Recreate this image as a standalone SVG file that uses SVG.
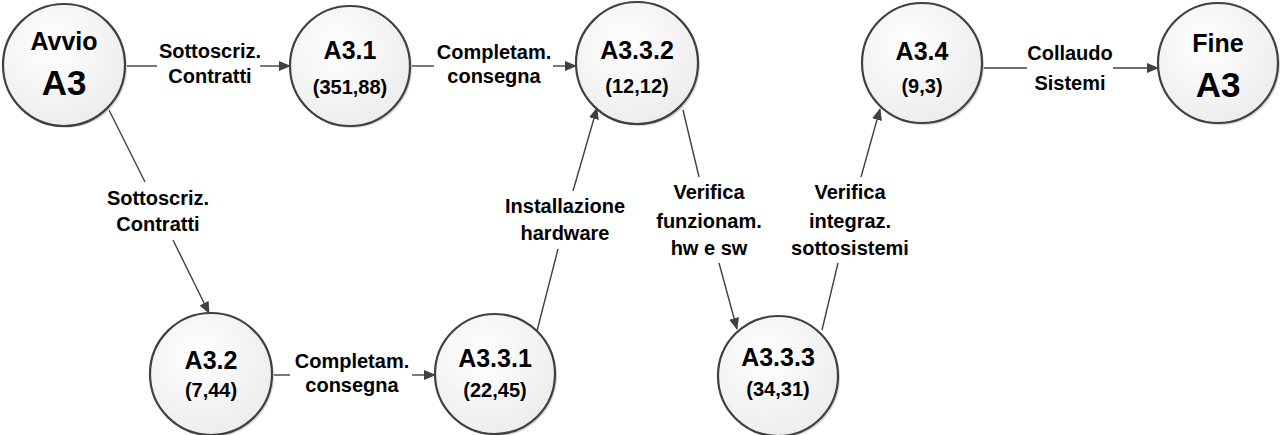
<svg xmlns="http://www.w3.org/2000/svg" width="1285" height="435" viewBox="0 0 1285 435">
<style>
.node{fill:url(#g);stroke:#404040;stroke-width:2.2}
.sh{fill:#d6d6d6}
.t{font-family:"Liberation Sans",Arial,sans-serif;font-weight:bold;fill:#000;text-anchor:middle}
.n1{font-size:25px}
.n2{font-size:20px}
.big{font-size:35px}
.lb{font-size:20px}
.e{stroke:#404040;stroke-width:1.4;fill:none}
</style>
<defs>
<radialGradient id="g" cx="0.4" cy="0.35" r="0.7">
<stop offset="0" stop-color="#ffffff"/>
<stop offset="1" stop-color="#ececec"/>
</radialGradient>
<marker id="a" markerWidth="12" markerHeight="10" refX="11" refY="5" orient="auto" markerUnits="userSpaceOnUse">
<path d="M0,0 L12,5 L0,10 Z" fill="#404040"/>
</marker>
</defs>
<g id="connectors">
<path class="e" d="M126,66 H157"/>
<path class="e" d="M260,66 H290" marker-end="url(#a)"/>
<path class="e" d="M411,66 H434"/>
<path class="e" d="M553,66 H576" marker-end="url(#a)"/>
<path class="e" d="M982,68 H1027"/>
<path class="e" d="M1113,68 H1158" marker-end="url(#a)"/>
<path class="e" d="M109,110 L145,182"/>
<path class="e" d="M173,240 L209,313" marker-end="url(#a)"/>
<path class="e" d="M272,375 H290"/>
<path class="e" d="M412,375 H435" marker-end="url(#a)"/>
<path class="e" d="M537,331 L558,249"/>
<path class="e" d="M573,191 L597,108" marker-end="url(#a)"/>
<path class="e" d="M683,110 L699,177"/>
<path class="e" d="M719,263 L737,329" marker-end="url(#a)"/>
<path class="e" d="M822,330 L838,263"/>
<path class="e" d="M861,177 L880,109" marker-end="url(#a)"/>
<text class="t lb" x="210" y="58">Sottoscriz.</text>
<text class="t lb" x="210" y="83">Contratti</text>
<text class="t lb" x="494" y="59">Completam.</text>
<text class="t lb" x="494" y="83">consegna</text>
<text class="t lb" x="1070" y="60">Collaudo</text>
<text class="t lb" x="1070" y="90">Sistemi</text>
<text class="t lb" x="158" y="205">Sottoscriz.</text>
<text class="t lb" x="158" y="231">Contratti</text>
<text class="t lb" x="352" y="368">Completam.</text>
<text class="t lb" x="352" y="392">consegna</text>
<text class="t lb" x="565" y="213">Installazione</text>
<text class="t lb" x="565" y="240">hardware</text>
<text class="t lb" x="709" y="199">Verifica</text>
<text class="t lb" x="709" y="228">funzionam.</text>
<text class="t lb" x="709" y="255">hw e sw</text>
<text class="t lb" x="850" y="199">Verifica</text>
<text class="t lb" x="850" y="228">integraz.</text>
<text class="t lb" x="850" y="255">sottosistemi</text>
</g>
<g id="avvio">
<circle class="sh" cx="66" cy="67" r="61"/>
<circle class="node" cx="64" cy="65" r="61"/>
<text class="t n1" x="64" y="50">Avvio</text>
<text class="t big" x="64" y="95">A3</text>
</g>
<g id="a31">
<circle class="sh" cx="352" cy="68" r="60"/>
<circle class="node" cx="350" cy="66" r="60"/>
<text class="t n1" x="350" y="59">A3.1</text>
<text class="t n2" x="350" y="94">(351,88)</text>
</g>
<g id="a332">
<circle class="sh" cx="639" cy="65" r="61"/>
<circle class="node" cx="637" cy="63" r="61"/>
<text class="t n1" x="637" y="59">A3.3.2</text>
<text class="t n2" x="637" y="93">(12,12)</text>
</g>
<g id="a34">
<circle class="sh" cx="924" cy="65" r="60"/>
<circle class="node" cx="922" cy="63" r="60"/>
<text class="t n1" x="922" y="60">A3.4</text>
<text class="t n2" x="922" y="93">(9,3)</text>
</g>
<g id="fine">
<circle class="sh" cx="1220" cy="65" r="60"/>
<circle class="node" cx="1218" cy="63" r="60"/>
<text class="t n1" x="1218" y="52">Fine</text>
<text class="t big" x="1218" y="97">A3</text>
</g>
<g id="a32">
<circle class="sh" cx="213" cy="376" r="61"/>
<circle class="node" cx="211" cy="374" r="61"/>
<text class="t n1" x="211" y="369">A3.2</text>
<text class="t n2" x="211" y="397">(7,44)</text>
</g>
<g id="a331">
<circle class="sh" cx="497" cy="376" r="60"/>
<circle class="node" cx="495" cy="374" r="60"/>
<text class="t n1" x="495" y="367">A3.3.1</text>
<text class="t n2" x="495" y="397">(22,45)</text>
</g>
<g id="a333">
<circle class="sh" cx="780" cy="378" r="60"/>
<circle class="node" cx="778" cy="376" r="60"/>
<text class="t n1" x="778" y="366">A3.3.3</text>
<text class="t n2" x="778" y="396">(34,31)</text>
</g>
</svg>
